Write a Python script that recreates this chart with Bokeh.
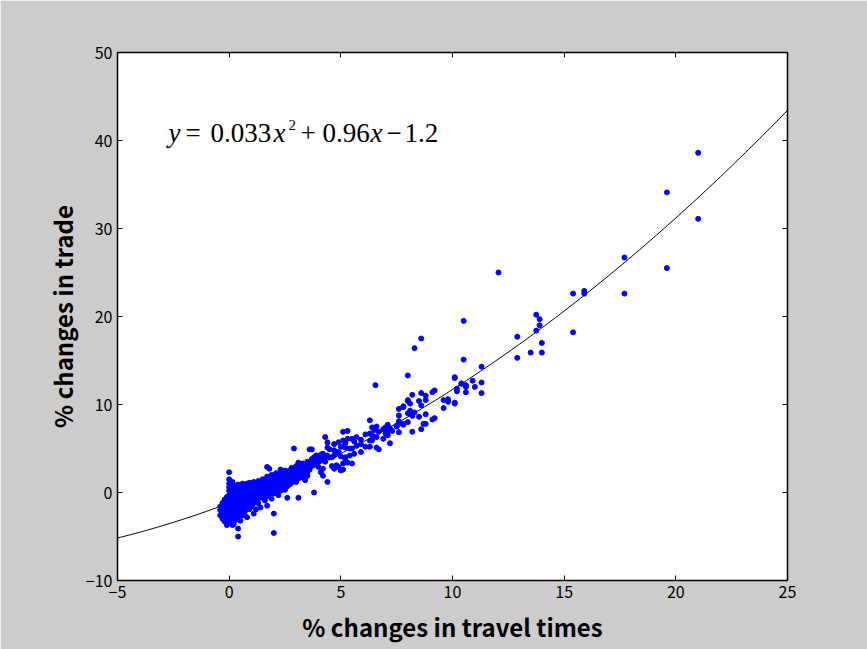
import numpy as np
from bokeh.plotting import figure
from bokeh.models import Range1d, LinearAxis, Label, FixedTicker
from bokeh.embed import file_html
from bokeh.resources import INLINE

# ---------------- data ----------------
# columns of points: (x, [y values])
cluster_pts = [
    (-0.4, [-2.0, -2.6, -1.6]),
    (-0.3, [-1.2, -1.8, -2.3, -3.0]),
    (-0.2, [-0.8, -1.3, -1.7, -2.1, -2.6, -3.3]),
    (-0.1, [-0.5, -0.9, -1.4, -1.9, -2.3, -2.8, -3.7]),
    (0.0, [0.2, -0.3, -0.7, -1.1, -1.5, -2.0, -2.4, -2.9, -3.4, 0.6, 1.0, 1.5, 2.3]),
    (0.1, [0.5, 0.0, -0.4, -0.8, -1.2, -1.6, -2.1, -2.5, -3.0]),
    (0.15, [-3.7, 1.2]),
    (0.2, [0.8, 0.3, -0.1, -0.5, -0.9, -1.3, -1.7, -2.2, -2.7, -3.6]),
    (0.3, [0.7, 0.2, -0.2, -0.6, -1.0, -1.4, -1.9, -2.4, -3.1]),
    (0.4, [0.9, 0.4, 0.0, -0.4, -0.8, -1.2, -1.6, -2.1, -2.7, -4.1, -5.0]),
    (0.5, [0.8, 0.3, -0.1, -0.5, -0.9, -1.3, -1.8, -2.3, -3.2]),
    (0.6, [1.0, 0.6, 0.2, -0.2, -0.6, -1.0, -1.5, -2.0, -2.6]),
    (0.7, [0.9, 0.5, 0.1, -0.3, -0.7, -1.1, -1.7, -2.2]),
    (0.8, [1.0, 0.6, 0.2, -0.2, -0.6, -1.0, -1.4, -2.8]),
    (0.9, [1.1, 0.7, 0.3, -0.1, -0.5, -0.9, -1.3, -1.9]),
    (1.0, [1.0, 0.6, 0.2, -0.2, -0.6, -1.1, -1.6]),
    (1.1, [1.2, 0.8, 0.4, 0.0, -0.4, -0.8, -1.2, -2.4]),
    (1.2, [1.1, 0.7, 0.3, -0.1, -0.5, -1.0, -1.9]),
    (1.3, [1.3, 0.9, 0.5, 0.1, -0.3, -0.7, -1.2]),
    (1.4, [1.2, 0.8, 0.4, 0.0, -0.5, -1.7]),
    (1.5, [1.5, 1.1, 0.7, 0.3, -0.1, -0.6]),
    (1.6, [1.4, 1.0, 0.6, 0.2, -0.3, -0.9]),
    (1.7, [1.8, 1.3, 0.9, 0.5, 0.1, -0.4, -1.5, 2.9]),
    (1.8, [1.6, 1.2, 0.8, 0.3, -0.2, 2.7]),
    (1.9, [2.0, 1.5, 1.0, 0.6, 0.1, -0.7]),
    (2.0, [1.8, 1.3, 0.9, 0.4, -0.1, -2.4, -4.6]),
    (2.1, [2.2, 1.7, 1.2, 0.7, 0.2]),
    (2.2, [2.0, 1.5, 1.0, 0.5, -0.3]),
    (2.3, [2.6, 2.3, 1.8, 1.3, 0.8, 0.2]),
    (2.4, [2.1, 1.6, 1.1, 0.5]),
    (2.5, [2.5, 2.0, 1.5, 0.9, 0.3]),
    (2.6, [2.3, 1.8, 1.3, 0.7, -0.6]),
    (2.7, [2.5, 2.0, 1.4, 0.9]),
    (2.8, [2.8, 2.2, 1.7, 1.1]),
    (2.9, [2.6, 2.0, 1.4, 5.0]),
    (3.0, [3.0, 2.4, 1.8, 1.2]),
    (3.1, [3.4, 2.8, 2.2, 1.6, -0.6]),
]
band_pts = [
    (3.2, [3.1, 2.5, 1.9]),
    (3.3, [3.3, 2.7, 2.1, 1.7]),
    (3.4, [3.0, 2.4, 1.4]),
    (3.5, [3.5, 2.9, 2.3, 1.9]),
    (3.6, [3.2, 2.6, 4.9]),
    (3.7, [3.8, 3.4, 3.0, 4.9]),
    (3.8, [3.6, 3.1, 4.0, 0.0]),
    (3.9, [3.9, 3.3, 4.2]),
    (4.0, [4.1, 3.5, 2.9]),
    (4.1, [4.3, 3.7, 2.3]),
    (4.2, [4.4, 3.9, 2.7, 1.9]),
    (4.3, [6.3, 4.0, 3.5]),
    (4.4, [5.7, 5.1, 4.2, 1.2]),
    (4.5, [4.9, 4.0]),
    (4.6, [4.0, 3.0]),
    (4.7, [5.5, 4.8, 4.2, 2.7, 2.9]),
    (4.8, [3.1, 4.4]),
    (4.9, [5.7, 2.9, 4.6]),
    (5.0, [4.1, 5.2, 2.5]),
    (5.1, [6.9, 5.9, 3.3, 2.6]),
    (5.2, [5.1, 3.8, 4.0, 5.6]),
    (5.3, [6.1, 7.0, 3.4]),
    (5.4, [4.2, 5.0]),
    (5.5, [6.1, 5.0, 3.3]),
    (5.6, [4.4, 5.8]),
    (5.7, [6.3, 5.3]),
    (5.9, [5.5, 4.6, 6.0]),
    (6.1, [6.6, 5.2]),
    (6.3, [8.2, 6.7, 5.2, 5.9]),
    (6.4, [7.4, 6.5, 5.9]),
    (6.5, [7.1]),
    (6.55, [12.2]),
    (6.6, [7.5, 6.3, 5.1]),
    (6.7, [4.9, 6.9]),
    (6.9, [6.1, 7.2]),
    (7.0, [6.7, 7.4]),
    (7.1, [6.5, 7.7, 6.9]),
    (7.2, [5.6, 7.3]),
    (7.3, [7.0]),
    (7.5, [7.6, 7.5]),
    (7.6, [7.8, 6.85, 8.75, 9.5, 8.1]),
    (7.8, [9.7, 7.7, 9.8, 7.8]),
    (8.0, [13.3, 10.5, 9.0, 10.4, 8.0]),
    (8.1, [10.1, 9.3, 9.0]),
    (8.2, [8.7, 6.9, 11.1]),
    (8.3, [16.4, 9.1]),
    (8.5, [10.4, 8.6]),
    (8.6, [17.5, 11.3, 9.9, 7.2]),
    (8.7, [7.8]),
    (8.8, [11.0, 10.5, 8.9, 7.8]),
    (9.1, [11.4, 8.3]),
    (9.2, [11.6, 8.45]),
    (9.6, [10.5, 9.6]),
    (9.8, [10.6, 10.3]),
    (10.1, [13.1, 10.2, 13.0, 10.1]),
    (10.2, [11.8, 11.5]),
    (10.4, [12.4, 12.35]),
    (10.5, [19.5, 15.1]),
    (10.6, [12.0, 11.4, 12.2]),
    (10.9, [12.7]),
    (11.0, [12.0]),
    (11.3, [14.3, 12.5, 11.3]),
]
tail_pts = [
    (12.06, [25.0]),
    (12.9, [17.7, 15.3]),
    (13.5, [15.9]),
    (13.75, [20.2, 18.4]),
    (13.9, [19.7, 19.0]),
    (14.0, [17.0, 15.9]),
    (15.4, [22.6, 18.2]),
    (15.9, [22.6, 22.9]),
    (17.7, [26.7, 22.6]),
    (19.6, [34.1, 25.5]),
    (21.0, [38.6, 31.1]),
]

fit_coef = [0.033, 0.96, -1.2]          # y = a*x^2 + b*x + c
x_ticks = [-5, 0, 5, 10, 15, 20, 25]
y_ticks = [-10, 0, 10, 20, 30, 40, 50]
x_tick_labels = ["\u22125", "0", "5", "10", "15", "20", "25"]
y_tick_labels = ["\u221210", "0", "10", "20", "30", "40", "50"]
x_title = "% changes in travel times"
y_title = "% changes in trade"
eq_parts = ["y", "=", "0.033", "x", "2", "+", "0.96", "x", "\u2212", "1.2"]

# ---------------- build ----------------
xs, ys = [], []
for group in (cluster_pts, band_pts, tail_pts):
    for xv, yl in group:
        for yv in yl:
            xs.append(xv)
            ys.append(yv)

fx = np.linspace(x_ticks[0], x_ticks[-1], 241)
fy = fit_coef[0] * fx ** 2 + fit_coef[1] * fx + fit_coef[2]

SANS = "Noto Sans CJK JP"
GRAY = "#cccccc"

p = figure(frame_width=670, frame_height=528,
           x_range=Range1d(-5, 25), y_range=Range1d(-10, 50),
           output_backend="svg", toolbar_location=None,
           x_axis_location=None, y_axis_location=None,
           min_border_left=117, min_border_right=80,
           min_border_top=52, min_border_bottom=69)
p.background_fill_color = "white"
p.border_fill_color = GRAY
p.outline_line_color = None
p.xgrid.visible = False
p.ygrid.visible = False

def make_axis(ticks, labels, show_labels):
    ax = LinearAxis(ticker=FixedTicker(ticks=ticks))
    ax.major_label_overrides = {t: l for t, l in zip(ticks, labels)}
    ax.major_tick_in = 5
    ax.major_tick_out = 0
    ax.minor_tick_in = 0
    ax.minor_tick_out = 0
    ax.axis_line_color = "black"
    ax.axis_line_width = 1.5
    ax.major_tick_line_color = "black"
    ax.major_tick_line_width = 1
    ax.major_label_text_font = SANS
    ax.major_label_text_font_size = "16px"
    ax.major_label_text_color = "black"
    if not show_labels:
        ax.major_label_text_alpha = 0
        ax.major_label_text_font_size = "1px"
        ax.major_label_standoff = 0
    return ax

xb = make_axis(x_ticks, x_tick_labels, True)
xb.major_label_standoff = 5
xb.axis_label = x_title
xb.axis_label_text_font = SANS
xb.axis_label_text_font_style = "bold"
xb.axis_label_text_font_size = "24px"
xb.axis_label_standoff = 8
xb.axis_label_text_color = "black"
p.add_layout(xb, "below")

yl_ax = make_axis(y_ticks, y_tick_labels, True)
yl_ax.major_label_standoff = 5
yl_ax.axis_label = y_title
yl_ax.axis_label_text_font = SANS
yl_ax.axis_label_text_font_style = "bold"
yl_ax.axis_label_text_font_size = "24px"
yl_ax.axis_label_standoff = 3
yl_ax.axis_label_text_color = "black"
p.add_layout(yl_ax, "left")

p.add_layout(make_axis(x_ticks, x_tick_labels, False), "above")
p.add_layout(make_axis(y_ticks, y_tick_labels, False), "right")

p.line(fx, fy, line_color="black", line_width=1)
p.scatter(xs, ys, size=5, fill_color="#0000ff", line_color="#0000ff")

# equation annotation (TeX-like, pieces laid out left to right)
eq_offsets = [0, 17, 42, 105, 120, 132, 154, 202, 218, 236]
eq_italic = [True, False, False, True, False, False, False, True, False, False]
for txt, off, it in zip(eq_parts, eq_offsets, eq_italic):
    sup = txt == "2"
    p.add_layout(Label(x=-2.717, y=40.9, x_offset=off, y_offset=8 if sup else 0,
                       text=txt, text_font="Liberation Serif",
                       text_font_style="italic" if it else "normal",
                       text_font_size="15px" if sup else "27px",
                       text_color="black", text_baseline="alphabetic",
                       text_align="left"))

html = file_html(p, INLINE, title="plot")
html = html.replace("<body>", '<body style="background-color:#cccccc;">', 1)
open("out.html", "w").write(html)
